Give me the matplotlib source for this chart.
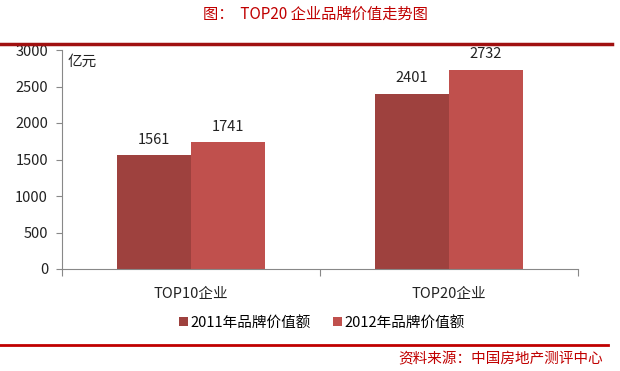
import numpy as np
import matplotlib.pyplot as plt

plt.rcParams['font.family'] = ['Noto Sans CJK SC', 'DejaVu Sans']

categories = ['TOP10企业', 'TOP20企业']
series_names = ['2011年品牌价值额', '2012年品牌价值额']
values_2011 = [1561, 2401]
values_2012 = [1741, 2732]
colors = ['#9E413E', '#C0504D']

fig = plt.figure(figsize=(6.2, 3.71), dpi=100)
ax = fig.add_axes([62/620, 1 - 269/371, (578-62)/620, (269-50)/371])

x = np.arange(len(categories))
w = 0.287
b1 = ax.bar(x - w/2, values_2011, w, color=colors[0], label=series_names[0])
b2 = ax.bar(x + w/2, values_2012, w, color=colors[1], label=series_names[1])
for bars in (b1, b2):
    for r in bars:
        ax.annotate(f'{int(r.get_height())}', (r.get_x() + r.get_width()/2, r.get_height()),
                    xytext=(0, 6), textcoords='offset points', ha='center', va='bottom',
                    fontsize=10.5, color='#222222')

ax.set_xlim(-0.5, 1.5)
ax.set_ylim(0, 3000)
ax.set_yticks(np.arange(0, 3001, 500))
ax.tick_params(axis='y', labelsize=10.5, length=4, color='#888888', labelcolor='#222222', pad=6)
ax.set_xticks([-0.5, 0.5, 1.5])
ax.set_xticklabels([])
ax.tick_params(axis='x', length=5, color='#888888')
for i, c in enumerate(categories):
    ax.text(i, -0.08, c, transform=ax.get_xaxis_transform(), ha='center', va='top', fontsize=10.5, color='#222222')
for s in ['top', 'right']:
    ax.spines[s].set_visible(False)
for s in ['left', 'bottom']:
    ax.spines[s].set_color('#888888')

ax.text(68/620, 1 - 62/371, '亿元', transform=fig.transFigure, ha='left', va='center', fontsize=10.5, color='#222222')

leg = fig.legend(loc='center', bbox_to_anchor=(322/620, 1 - 323/371), ncol=2, frameon=False,
                 fontsize=10.5, handlelength=0.6, handleheight=0.6, handletextpad=0.2, columnspacing=1.5)

fig.text(315/620, 1 - 14/371, '图：  TOP20 企业品牌价值走势图', ha='center', va='center', fontsize=11, color='#C00000')
fig.add_artist(plt.Line2D([0, 612/620], [1 - 44/371, 1 - 44/371], color='#A01010', lw=2.5))
fig.add_artist(plt.Line2D([0, 608/620], [1 - 345/371, 1 - 345/371], color='#C00000', lw=2))
fig.text(603/620, 1 - 359/371, '资料来源：中国房地产测评中心', ha='right', va='center', fontsize=10.5, color='#C00000')

fig.savefig('out.png', dpi=100)
